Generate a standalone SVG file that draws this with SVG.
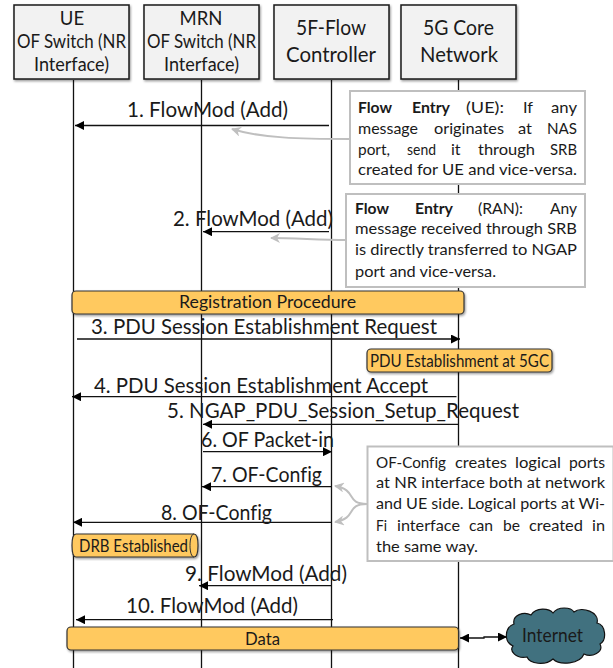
<svg xmlns="http://www.w3.org/2000/svg" width="613" height="668" viewBox="0 0 613 668">
<style>
text{font-family:"Lato","Liberation Sans",sans-serif;fill:#1a1a1a;font-variant-ligatures:none}
.hd{font-size:18.5px}.hl{font-size:22px}.m{font-size:22px}.c{font-size:16px}.b{font-size:16.500px}
.box{fill:#f2f2f2;stroke:#1a1a1a;stroke-width:1.5;filter:url(#sh)}
.pill{fill:#ffc95f;stroke:#333;stroke-width:1.2;filter:url(#sh)}
.life{stroke:#111;stroke-width:1.3;fill:none}
.msg{stroke:#111;stroke-width:1.3;fill:none}
.hint{stroke:#bfbfbf;stroke-width:2;fill:none}
.note{fill:#fff;stroke:#bfbfbf;stroke-width:2}
</style>
<defs>
<filter id="sh" x="-5%" y="-10%" width="110%" height="125%"><feDropShadow dx="1" dy="1.5" stdDeviation="1.2" flood-color="#000" flood-opacity=".4"/></filter>
<marker id="ah" viewBox="0 0 10 10" refX="10" refY="5" markerUnits="userSpaceOnUse" markerWidth="9" markerHeight="9" orient="auto-start-reverse"><path d="M0 0L10 5L0 10z" fill="#000"/></marker>
<marker id="gh" viewBox="0 0 10 10" refX="9" refY="5" markerUnits="userSpaceOnUse" markerWidth="10" markerHeight="10" orient="auto"><path d="M0 0L10 5L0 10L3 5z" fill="#bfbfbf"/></marker>
</defs>
<g id="lifelines">
<path class="life" d="M73.5 80V668M201.5 80V668M331.5 80V668M458.5 80V668"/>
</g>
<g id="node-ue"><rect class="box" x="14" y="5" width="115" height="74"/>
<text class="hd" x="72" y="25" text-anchor="middle">UE</text>
<text class="hd" x="17" y="48" textLength="109" lengthAdjust="spacingAndGlyphs">OF Switch (NR</text>
<text class="hd" x="34" y="71" textLength="75" lengthAdjust="spacingAndGlyphs">Interface)</text></g>
<g id="node-mrn"><rect class="box" x="144" y="5" width="115" height="74"/>
<text class="hd" x="201" y="25" text-anchor="middle">MRN</text>
<text class="hd" x="147" y="48" textLength="109" lengthAdjust="spacingAndGlyphs">OF Switch (NR</text>
<text class="hd" x="164" y="71" textLength="75" lengthAdjust="spacingAndGlyphs">Interface)</text></g>
<g id="node-controller"><rect class="box" x="274" y="5" width="115" height="74"/>
<text class="hl" x="296" y="35" textLength="70" lengthAdjust="spacingAndGlyphs">5F-Flow</text>
<text class="hl" x="286" y="62" textLength="90" lengthAdjust="spacingAndGlyphs">Controller</text></g>
<g id="node-core"><rect class="box" x="401" y="5" width="115" height="74"/>
<text class="hl" x="423" y="35" textLength="71" lengthAdjust="spacingAndGlyphs">5G Core</text>
<text class="hl" x="420" y="62" textLength="78" lengthAdjust="spacingAndGlyphs">Network</text></g>
<g id="connectors">
<path class="msg" marker-end="url(#ah)" d="M329 125.5H75"/>
<path class="msg" marker-end="url(#ah)" d="M329 231.7H203"/>
<path class="msg" marker-end="url(#ah)" d="M77 339H460"/>
<path class="msg" marker-end="url(#ah)" d="M456.5 396.7H72"/>
<path class="msg" marker-end="url(#ah)" d="M458 424.3H203"/>
<path class="msg" marker-end="url(#ah)" d="M203 451.7H332"/>
<path class="msg" marker-end="url(#ah)" d="M331 486.7H202"/>
<path class="msg" marker-end="url(#ah)" d="M331 522.3H73"/>
<path class="msg" marker-end="url(#ah)" d="M331 585.7H199"/>
<path class="msg" marker-end="url(#ah)" d="M333 619.7H76"/>
<path class="msg" marker-start="url(#ah)" d="M460 638H484V637H507" marker-end="url(#ah)"/>
<path class="hint" marker-end="url(#gh)" d="M350 139C300 139 260 138 232 129"/>
<path class="hint" marker-end="url(#gh)" d="M346 240C320 240 295 238 271 238"/>
<path class="hint" marker-end="url(#gh)" d="M367 504C345 504 358 490 335 486"/>
<path class="hint" marker-end="url(#gh)" d="M367 504C345 504 358 518 335 522"/>
</g>
<g id="labels">
<text class="m" x="127" y="117" textLength="161" lengthAdjust="spacingAndGlyphs">1. FlowMod (Add)</text>
<text class="m" x="173" y="226" textLength="160" lengthAdjust="spacingAndGlyphs">2. FlowMod (Add)</text>
<text class="m" x="91" y="334" textLength="346" lengthAdjust="spacingAndGlyphs">3. PDU Session Establishment Request</text>
<text class="m" x="94" y="393" textLength="334" lengthAdjust="spacingAndGlyphs">4. PDU Session Establishment Accept</text>
<text class="m" x="167" y="418" textLength="352" lengthAdjust="spacingAndGlyphs">5. NGAP_PDU_Session_Setup_Request</text>
<text class="m" x="201" y="447" textLength="133" lengthAdjust="spacingAndGlyphs">6. OF Packet-in</text>
<text class="m" x="211" y="482" textLength="111" lengthAdjust="spacingAndGlyphs">7. OF-Config</text>
<text class="m" x="161" y="520" textLength="111" lengthAdjust="spacingAndGlyphs">8. OF-Config</text>
<text class="m" x="185" y="581" textLength="162" lengthAdjust="spacingAndGlyphs">9. FlowMod (Add)</text>
<text class="m" x="126" y="613" textLength="172" lengthAdjust="spacingAndGlyphs">10. FlowMod (Add)</text>
</g>
<g id="note-ue"><rect class="note" x="350" y="91" width="235" height="93"/>
<text class="c" y="113"><tspan x="358" font-weight="700" textLength="34" lengthAdjust="spacingAndGlyphs">Flow</tspan><tspan x="412" font-weight="700" textLength="38" lengthAdjust="spacingAndGlyphs">Entry</tspan><tspan x="466" textLength="38" lengthAdjust="spacingAndGlyphs">(UE):</tspan><tspan x="523" textLength="10" lengthAdjust="spacingAndGlyphs">If</tspan><tspan x="551" textLength="26" lengthAdjust="spacingAndGlyphs">any</tspan></text>
<text class="c" y="133.5"><tspan x="358" textLength="60" lengthAdjust="spacingAndGlyphs">message</tspan><tspan x="434" textLength="70" lengthAdjust="spacingAndGlyphs">originates</tspan><tspan x="518" textLength="14" lengthAdjust="spacingAndGlyphs">at</tspan><tspan x="547" textLength="30" lengthAdjust="spacingAndGlyphs">NAS</tspan></text>
<text class="c" y="154.5"><tspan x="358" textLength="32" lengthAdjust="spacingAndGlyphs">port,</tspan><tspan x="407" textLength="29" lengthAdjust="spacingAndGlyphs">send</tspan><tspan x="451">it</tspan><tspan x="478" textLength="57" lengthAdjust="spacingAndGlyphs">through</tspan><tspan x="550" textLength="27" lengthAdjust="spacingAndGlyphs">SRB</tspan></text>
<text class="c" x="358" y="175" textLength="219" lengthAdjust="spacingAndGlyphs">created for UE and vice-versa.</text></g>
<g id="note-ran"><rect class="note" x="346" y="194" width="239" height="93"/>
<text class="c" y="213.5"><tspan x="355" font-weight="700" textLength="34" lengthAdjust="spacingAndGlyphs">Flow</tspan><tspan x="415" font-weight="700" textLength="38" lengthAdjust="spacingAndGlyphs">Entry</tspan><tspan x="478" textLength="45" lengthAdjust="spacingAndGlyphs">(RAN):</tspan><tspan x="550" textLength="27" lengthAdjust="spacingAndGlyphs">Any</tspan></text>
<text class="c" x="355" y="234" textLength="222" lengthAdjust="spacingAndGlyphs">message received through SRB</text>
<text class="c" x="355" y="255" textLength="222" lengthAdjust="spacingAndGlyphs">is directly transferred to NGAP</text>
<text class="c" x="355" y="277" textLength="141" lengthAdjust="spacingAndGlyphs">port and vice-versa.</text></g>
<g id="note-ofconfig"><rect class="note" x="367.5" y="446.5" width="246" height="114.5"/>
<text class="c" y="468"><tspan x="376" textLength="70" lengthAdjust="spacingAndGlyphs">OF-Config</tspan><tspan x="455" textLength="52" lengthAdjust="spacingAndGlyphs">creates</tspan><tspan x="515" textLength="46" lengthAdjust="spacingAndGlyphs">logical</tspan><tspan x="569" textLength="36" lengthAdjust="spacingAndGlyphs">ports</tspan></text>
<text class="c" x="376" y="488" textLength="229" lengthAdjust="spacingAndGlyphs">at NR interface both at network</text>
<text class="c" x="376" y="509" textLength="229" lengthAdjust="spacingAndGlyphs">and UE side. Logical ports at Wi-</text>
<text class="c" y="531"><tspan x="376" textLength="11" lengthAdjust="spacingAndGlyphs">Fi</tspan><tspan x="397" textLength="63" lengthAdjust="spacingAndGlyphs">interface</tspan><tspan x="469" textLength="24" lengthAdjust="spacingAndGlyphs">can</tspan><tspan x="503" textLength="17" lengthAdjust="spacingAndGlyphs">be</tspan><tspan x="529" textLength="54" lengthAdjust="spacingAndGlyphs">created</tspan><tspan x="592" textLength="13" lengthAdjust="spacingAndGlyphs">in</tspan></text>
<text class="c" x="376" y="552" textLength="102" lengthAdjust="spacingAndGlyphs">the same way.</text></g>
<g id="node-registration"><rect class="pill" x="72" y="291" width="392" height="23" rx="4"/>
<text class="b" x="179" y="308" textLength="177" lengthAdjust="spacingAndGlyphs">Registration Procedure</text></g>
<g id="node-pdu"><rect class="pill" x="367" y="349" width="185" height="23" rx="4"/>
<text class="b" x="370" y="367" textLength="179" lengthAdjust="spacingAndGlyphs">PDU Establishment at 5GC</text></g>
<g id="node-drb"><path class="pill" d="M76 534H194C196.500 534 198 539 198 545.500S196.500 557 194 557H76C73.500 557 72 552 72 545.500S73.500 534 76 534Z"/>
<path d="M194 534C191.500 534 190 539 190 545.500S191.500 557 194 557" fill="none" stroke="#333" stroke-width="1"/>
<text class="b" x="79" y="552" textLength="109" lengthAdjust="spacingAndGlyphs">DRB Established</text></g>
<g id="node-data"><rect class="pill" x="67" y="627" width="391.500" height="23" rx="4"/>
<text class="b" x="245" y="645" textLength="35" lengthAdjust="spacingAndGlyphs">Data</text></g>
<g id="node-internet"><path d="M514 624C512 615 524 611 531 615C536 607 549 608 553 613C558 606 571 607 574 612C582 606 600 612 597 623C606 625 607 640 600 644C604 652 592 658 584 654C580 664 560 666 553 659C545 666 530 664 527 657C516 659 509 651 513 646C504 642 504 628 514 624Z" fill="#41717f" stroke="#111" stroke-width="1.2"/>
<text x="522" y="642" font-size="20" textLength="61" lengthAdjust="spacingAndGlyphs">Internet</text></g>
</svg>
